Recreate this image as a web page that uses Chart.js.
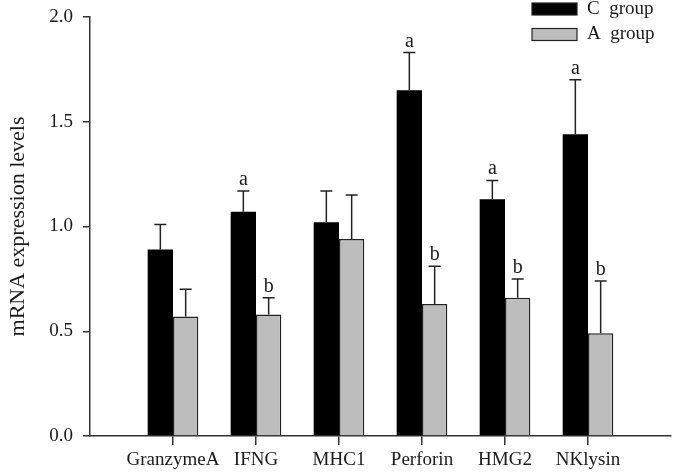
<!DOCTYPE html>
<html>
<head>
<meta charset="utf-8">
<script src="https://cdn.jsdelivr.net/npm/chart.js@4.4.1/dist/chart.umd.min.js"></script>
<style>
  html, body { margin: 0; padding: 0; background: #fff; }
</style>
</head>
<body>
<canvas id="myChart" width="675" height="476"></canvas>
<script>
// genes on the x axis
const genes = ['GranzymeA', 'IFNG', 'MHC1', 'Perforin', 'HMG2', 'NKlysin'];
// mean mRNA expression levels
const cGroup = [0.89, 1.07, 1.02, 1.65, 1.13, 1.44];
const aGroup = [0.57, 0.58, 0.94, 0.63, 0.66, 0.49];
// upper error bars
const cErr = [0.12, 0.10, 0.15, 0.18, 0.09, 0.26];
const aErr = [0.13, 0.08, 0.21, 0.18, 0.09, 0.25];
// significance letters above the error bars
const cSig = ['', 'a', '', 'a', 'a', 'a'];
const aSig = ['', 'b', '', 'b', 'b', 'b'];
// y axis ticks
const yTicks = [0.0, 0.5, 1.0, 1.5, 2.0];

const serif = "'Liberation Serif', 'Times New Roman', serif";
const ink = '#1a1a1a';

//pad an empty slot at each end so the axis runs a full category past the first/last gene
const labels = ['', ...genes, ''];
const pad = arr => [null, ...arr, null];

//error bars + letters
const errorBars = {
  id: 'errorBars',
  afterDatasetsDraw(chart) {
    const ctx = chart.ctx;
    const y = chart.scales.y;
    const errs = [cErr, aErr];
    const sigs = [cSig, aSig];
    ctx.save();
    ctx.strokeStyle = '#222';
    ctx.lineWidth = 1.5;
    ctx.fillStyle = ink;
    ctx.font = '20px ' + serif;
    ctx.textAlign = 'center';
    ctx.textBaseline = 'alphabetic';
    chart.data.datasets.forEach((ds, d) => {
      const meta = chart.getDatasetMeta(d);
      meta.data.forEach((bar, i) => {
        const v = ds.data[i];
        if (v == null) return;
        const top = y.getPixelForValue(v + errs[d][i - 1]);
        ctx.beginPath();
        ctx.moveTo(bar.x, bar.y);
        ctx.lineTo(bar.x, top);
        ctx.moveTo(bar.x - 6, top);
        ctx.lineTo(bar.x + 6, top);
        ctx.stroke();
        const s = sigs[d][i - 1];
        if (s) ctx.fillText(s, bar.x, top - 6);
      });
    });
    ctx.restore();
  }
};

//legend stacked in the top right corner
const cornerLegend = {
  id: 'cornerLegend',
  afterDraw(chart) {
    const ctx = chart.ctx;
    ctx.save();
    ctx.font = '19px ' + serif;
    ctx.textBaseline = 'middle';
    ctx.textAlign = 'left';
    chart.data.datasets.forEach((ds, d) => {
      const yTop = 3 + d * 25.5;
      ctx.fillStyle = ds.backgroundColor;
      ctx.fillRect(532, yTop, 45, 12);
      ctx.strokeStyle = '#222';
      ctx.lineWidth = 1.2;
      ctx.strokeRect(532, yTop, 45, 12);
      ctx.fillStyle = ink;
      ctx.fillText(ds.label, 587, yTop + 6);
    });
    ctx.restore();
  }
};

const chartData = {
  labels: labels,
  datasets: [
    {
      label: 'C  group',
      data: pad(cGroup),
      backgroundColor: '#000000',
      borderColor: '#000000',
      borderWidth: 0
    },
    {
      label: 'A  group',
      data: pad(aGroup),
      backgroundColor: '#bdbdbd',
      borderColor: '#222222',
      borderWidth: 1.5
    }
  ]
};

const chartConfig = {
  type: 'bar',
  data: chartData,
  options: {
    responsive: false,
    animation: false,
    layout: { padding: { top: 17, right: 3, left: 0, bottom: 0 } },
    datasets: {
      bar: { barPercentage: 1, categoryPercentage: 0.61 }
    },
    plugins: {
      legend: { display: false },
      tooltip: { enabled: false }
    },
    scales: {
      x: {
        offset: false,
        afterFit: s => { s.height = 40; },
        border: { display: true, color: '#333', width: 1.5 },
        grid: {
          offset: false,
          drawOnChartArea: false,
          drawTicks: true,
          tickLength: 9,
          lineWidth: 1.5,
          color: c => (c.index === 0 || c.index === labels.length - 1) ? 'rgba(0,0,0,0)' : '#333'
        },
        ticks: {
          autoSkip: false,
          maxRotation: 0,
          padding: 4,
          color: ink,
          font: { family: serif, size: 19 }
        }
      },
      y: {
        min: 0,
        max: 2,
        afterFit: s => { s.width = 90; s.paddingTop = 0; s.paddingBottom = 0; },
        afterBuildTicks: s => { s.ticks = yTicks.map(v => ({ value: v })); },
        border: { display: true, color: '#333', width: 1.5 },
        grid: {
          drawOnChartArea: false,
          drawTicks: true,
          tickLength: 7,
          lineWidth: 1.5,
          color: '#333'
        },
        ticks: {
          padding: 10,
          color: ink,
          font: { family: serif, size: 19 },
          callback: v => Number(v).toFixed(1)
        },
        title: {
          display: true,
          text: 'mRNA expression levels',
          color: ink,
          font: { family: serif, size: 22, lineHeight: 1.2 },
          padding: { top: 5, bottom: 0 }
        }
      }
    }
  },
  plugins: [errorBars, cornerLegend]
};

const myChart = new Chart(document.getElementById('myChart'), chartConfig);
</script>
</body>
</html>
